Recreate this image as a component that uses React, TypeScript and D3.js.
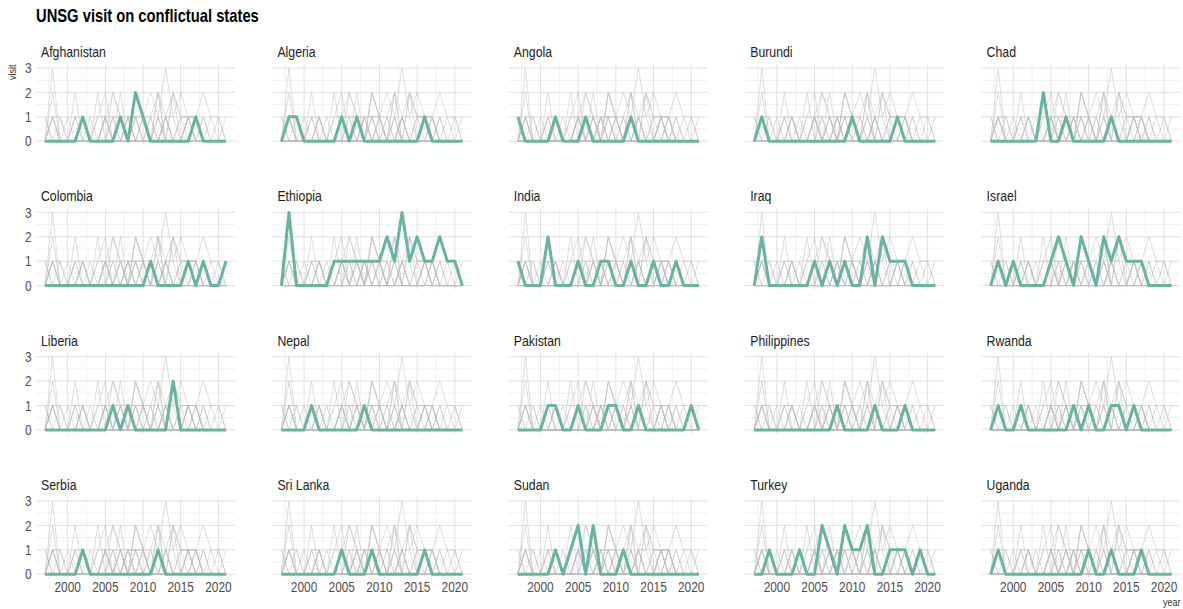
import React from "react";
import * as d3 from "d3";

// Years covered by the visit record
const years: number[] = d3.range(1997, 2022);

const countries: string[] = [
  "Afghanistan", "Algeria", "Angola", "Burundi", "Chad",
  "Colombia", "Ethiopia", "India", "Iraq", "Israel",
  "Liberia", "Nepal", "Pakistan", "Philippines", "Rwanda",
  "Serbia", "Sri Lanka", "Sudan", "Turkey", "Uganda",
];

// Visits per year, 1997 → 2021
const afghanistan = [0,0,0,0,0,1,0,0,0,0,1,0,2,1,0,0,0,0,0,0,1,0,0,0,0];
const algeria     = [0,1,1,0,0,0,0,0,1,0,1,0,0,0,0,0,0,0,0,1,0,0,0,0,0];
const angola      = [1,0,0,0,0,1,0,0,0,1,0,0,0,0,0,1,0,0,0,0,0,0,0,0,0];
const burundi     = [0,1,0,0,0,0,0,0,0,0,0,0,0,1,0,0,0,0,0,1,0,0,0,0,0];
const chad        = [0,0,0,0,0,0,0,2,0,0,1,0,0,0,0,0,1,0,0,0,0,0,0,0,0];
const colombia    = [0,0,0,0,0,0,0,0,0,0,0,0,0,0,1,0,0,0,0,1,0,1,0,0,1];
const ethiopia    = [0,3,0,0,0,0,0,1,1,1,1,1,1,1,2,1,3,1,2,1,1,2,1,1,0];
const india       = [1,0,0,0,2,0,0,0,1,0,0,1,1,0,0,1,0,0,1,0,0,1,0,0,0];
const iraq        = [0,2,0,0,0,0,0,0,1,0,1,0,1,0,0,2,0,2,1,1,1,0,0,0,0];
const israel      = [0,1,0,1,0,0,0,0,1,2,1,0,2,1,0,2,1,2,1,1,1,0,0,0,0];
const liberia     = [0,0,0,0,0,0,0,0,0,1,0,1,0,0,0,0,0,2,0,0,0,0,0,0,0];
const nepal       = [0,0,0,0,1,0,0,0,0,0,0,1,0,0,0,0,0,0,0,0,0,0,0,0,0];
const pakistan    = [0,0,0,0,1,1,0,0,1,0,0,0,1,1,0,0,1,0,0,0,0,0,0,1,0];
const philippines = [0,0,0,0,0,0,0,0,0,0,0,1,0,0,0,0,1,0,0,0,1,0,0,0,0];
const rwanda      = [0,1,0,0,1,0,0,0,0,0,0,1,0,1,0,0,1,1,0,1,0,0,0,0,0];
const serbia      = [0,0,0,0,0,1,0,0,0,0,0,0,0,0,0,1,0,0,0,0,0,0,0,0,0];
const sriLanka    = [0,0,0,0,0,0,0,0,1,0,0,0,1,0,0,0,0,0,0,1,0,0,0,0,0];
const sudan       = [0,0,0,0,0,1,0,1,2,0,2,0,0,0,1,0,0,0,0,0,0,0,0,0,0];
const turkey      = [0,0,1,0,0,0,1,0,0,2,1,0,2,1,1,2,0,0,1,1,1,0,1,0,0];
const uganda      = [0,1,0,0,0,0,0,0,0,0,0,0,0,1,0,0,1,0,0,0,1,0,0,0,0];

const visits: number[][] = [
  afghanistan, algeria, angola, burundi, chad,
  colombia, ethiopia, india, iraq, israel,
  liberia, nepal, pakistan, philippines, rwanda,
  serbia, sriLanka, sudan, turkey, uganda,
];

const xTicks: number[] = [2000, 2005, 2010, 2015, 2020];
const xMinor: number[] = [1997.5, 2002.5, 2007.5, 2012.5, 2017.5];
const yTicks: number[] = [0, 1, 2, 3];
const yMinor: number[] = [0.5, 1.5, 2.5];

const title = "UNSG visit on conflictual states";

const FONT = "'Liberation Sans Narrow', 'Arial Narrow', 'Liberation Sans', Arial, sans-serif";
const GREEN = "#69b3a2";
const NARROW = 0.82;

const W = 1183;
const H = 609;
const NCOL = 5;
const panelW = 199;
const panelH = 80.5;
const colPitch = 236.4;
const rowPitch = 144.33;
const left0 = 36;
const top0 = 64.4;

// Condensed text: horizontally squeezed around its anchor point
function NText(props: {
  x: number;
  y: number;
  size: number;
  anchor?: "start" | "middle" | "end";
  weight?: string;
  fill: string;
  rotate?: number;
  dy?: string;
  children: React.ReactNode;
}) {
  const { x, y, size, anchor = "start", weight = "normal", fill, rotate = 0, dy, children } = props;
  return (
    <text
      transform={`translate(${x},${y}) rotate(${rotate}) scale(${NARROW},1)`}
      textAnchor={anchor}
      fontSize={size}
      fontWeight={weight}
      fill={fill}
      dy={dy}
    >
      {children}
    </text>
  );
}

export default function App() {
  const x = d3.scaleLinear().domain([1995.8, 2022.2]).range([0, panelW]);
  const y = d3.scaleLinear().domain([-0.15, 3.15]).range([panelH, 0]);
  const line = d3
    .line<number>()
    .x((_, i) => x(years[i]))
    .y((v) => y(v));

  const nRows = Math.ceil(countries.length / NCOL);

  return (
    <svg
      width={W}
      height={H}
      style={{ position: "absolute", left: 0, top: 0, background: "#fff" }}
      fontFamily={FONT}
    >
      <NText x={36} y={22} size={18} weight="bold" fill="#000">
        {title}
      </NText>
      {countries.map((name, ci) => {
        const col = ci % NCOL;
        const row = Math.floor(ci / NCOL);
        const tx = left0 + col * colPitch;
        const ty = top0 + row * rowPitch;
        return (
          <g key={name} transform={`translate(${tx},${ty})`}>
            {yMinor.map((v) => (
              <line key={"ym" + v} x1={0} x2={panelW} y1={y(v)} y2={y(v)} stroke="#ececec" strokeWidth={0.8} />
            ))}
            {xMinor.map((v) => (
              <line key={"xm" + v} y1={0} y2={panelH} x1={x(v)} x2={x(v)} stroke="#ececec" strokeWidth={0.8} />
            ))}
            {yTicks.map((v) => (
              <line key={"y" + v} x1={0} x2={panelW} y1={y(v)} y2={y(v)} stroke="#dcdcdc" strokeWidth={0.9} />
            ))}
            {xTicks.map((v) => (
              <line key={"x" + v} y1={0} y2={panelH} x1={x(v)} x2={x(v)} stroke="#dcdcdc" strokeWidth={0.9} />
            ))}
            {visits.map((vals, j) =>
              j === ci ? null : (
                <path
                  key={"g" + j}
                  d={line(vals) || ""}
                  fill="none"
                  stroke="#bebebe"
                  strokeOpacity={0.5}
                  strokeWidth={1}
                />
              )
            )}
            <path
              d={line(visits[ci]) || ""}
              fill="none"
              stroke={GREEN}
              strokeWidth={3}
              strokeLinejoin="round"
            />
            <NText x={5} y={-7.5} size={15} fill="#222">
              {name}
            </NText>
            {col === 0 &&
              yTicks.map((v) => (
                <NText key={"yl" + v} x={-4.5} y={y(v)} dy="0.36em" anchor="end" size={14.5} fill="#4d4d4d">
                  {v}
                </NText>
              ))}
            {row === nRows - 1 &&
              xTicks.map((v) => (
                <NText key={"xl" + v} x={x(v)} y={panelH + 14} anchor="middle" size={14.5} fill="#4d4d4d">
                  {v}
                </NText>
              ))}
          </g>
        );
      })}
      <NText x={16} y={top0} rotate={-90} anchor="end" size={11} fill="#333">
        visit
      </NText>
      <NText x={left0 + (NCOL - 1) * colPitch + panelW} y={606} anchor="end" size={11} fill="#333">
        year
      </NText>
    </svg>
  );
}
